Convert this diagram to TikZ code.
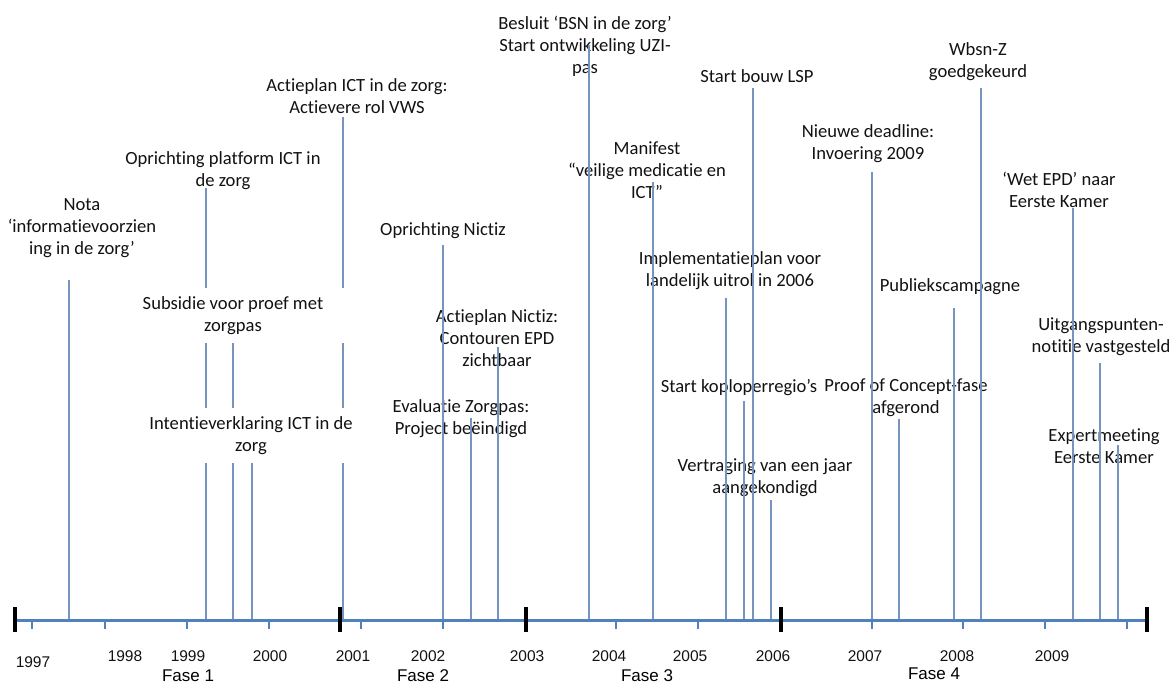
\documentclass[tikz,border=0pt]{standalone}
\usepackage{fontspec}
\setmainfont{Carlito}[Ligatures=NoCommon]
\newfontfamily\yearfont{Liberation Sans}
\usetikzlibrary{positioning}
\definecolor{axisblue}{RGB}{79,129,189}
\definecolor{lineblue}{RGB}{118,148,190}
\definecolor{textgray}{RGB}{18,18,18}

\begin{document}
\begin{tikzpicture}[x=1pt,y=-1pt,
    evtext/.style={align=center,text=textgray,inner sep=0pt,font=\fontsize{18.6}{22}\selectfont},
    masked/.style={evtext,fill=white,inner xsep=8pt,inner ysep=8.5pt},
    event/.style={draw=lineblue,line width=1.3pt},
    timeline/.style={draw=axisblue,line width=3pt},
    minor/.style={draw=axisblue,line width=2.6pt},
    major/.style={draw=black,line width=3.6pt},
    year/.style={anchor=base,text=textgray,font=\yearfont\fontsize{15.5}{18}\selectfont},
    fase/.style={anchor=base,inner sep=0pt,text=black,font=\yearfont\fontsize{17}{20}\selectfont}]
  \clip (0,0) rectangle (1175,683);
  \coordinate (axl) at (15,620);
  \coordinate (axr) at (1147,620);
  % labels (lines run over these)
  \node[evtext] (e_1) at (82,228) {Nota\\‘informatievoorzien\\ing in de zorg’};
  \node[evtext] (e_2) at (223,171) {Oprichting platform ICT in\\de zorg};
  \node[evtext] (e_5) at (357,96) {Actieplan ICT in de zorg:\\Actievere rol VWS};
  \node[evtext] (e_6) at (443,231) {Oprichting Nictiz};
  \node[evtext] (e_7) at (461,419) {Evaluatie Zorgpas:\\Project beëindigd};
  \node[evtext] (e_8) at (497,338) {Actieplan Nictiz:\\Contouren EPD\\zichtbaar};
  \node[evtext] (e_9) at (585,46) {Besluit ‘BSN in de zorg’\\Start ontwikkeling UZI-\\pas};
  \node[evtext] (e_10) at (647,170) {Manifest\\“veilige medicatie en\\ICT”};
  \node[evtext] (e_11) at (730,271) {Implementatieplan voor\\landelijk uitrol in 2006};
  \node[evtext] (e_12) at (739,388) {Start koploperregio’s};
  \node[evtext] (e_13) at (757,76) {Start bouw LSP};
  \node[evtext] (e_14) at (765,478) {Vertraging van een jaar\\aangekondigd};
  \node[evtext] (e_15) at (868,144) {Nieuwe deadline:\\Invoering 2009};
  \node[evtext] (e_16) at (906,398) {Proof of Concept-fase\\afgerond};
  \node[evtext] (e_17) at (950,287) {Publiekscampagne};
  \node[evtext] (e_18) at (978,62) {Wbsn-Z\\goedgekeurd};
  \node[evtext] (e_19) at (1059,190) {‘Wet EPD’ naar\\Eerste Kamer};
  \node[evtext] (e_20) at (1101,337) {Uitgangspunten-\\notitie vastgesteld};
  \node[evtext] (e_21) at (1104,446) {Expertmeeting\\Eerste Kamer};
  % tops of the event lines
  \coordinate (t_1) at (69,280);
  \coordinate (t_2) at (206,188);
  \coordinate (t_3) at (233,343);
  \coordinate (t_4) at (252,463);
  \coordinate (t_5) at (343,117);
  \coordinate (t_6) at (443,245);
  \coordinate (t_7) at (471,418);
  \coordinate (t_8) at (498,347);
  \coordinate (t_9) at (589,45);
  \coordinate (t_10) at (653,182);
  \coordinate (t_11) at (726,298);
  \coordinate (t_12) at (744,401);
  \coordinate (t_13) at (753,88);
  \coordinate (t_14) at (771,500);
  \coordinate (t_15) at (872,172);
  \coordinate (t_16) at (899,419);
  \coordinate (t_17) at (954,308);
  \coordinate (t_18) at (981,88);
  \coordinate (t_19) at (1073,208);
  \coordinate (t_20) at (1100,363);
  \coordinate (t_21) at (1118,445);
  \path[event]
    (t_1) edge (t_1 |- axl)
    (t_2) edge (t_2 |- axl)
    (t_3) edge (t_3 |- axl)
    (t_4) edge (t_4 |- axl)
    (t_5) edge (t_5 |- axl)
    (t_6) edge (t_6 |- axl)
    (t_7) edge (t_7 |- axl)
    (t_8) edge (t_8 |- axl)
    (t_9) edge (t_9 |- axl)
    (t_10) edge (t_10 |- axl)
    (t_11) edge (t_11 |- axl)
    (t_12) edge (t_12 |- axl)
    (t_13) edge (t_13 |- axl)
    (t_14) edge (t_14 |- axl)
    (t_15) edge (t_15 |- axl)
    (t_16) edge (t_16 |- axl)
    (t_17) edge (t_17 |- axl)
    (t_18) edge (t_18 |- axl)
    (t_19) edge (t_19 |- axl)
    (t_20) edge (t_20 |- axl)
    (t_21) edge (t_21 |- axl);
  % these two cover the lines behind them
  \node[masked,inner xsep=22pt] (e_3) at (233,315.5) {Subsidie voor proef met\\zorgpas};
  \node[masked] (e_4) at (251,435.5) {Intentieverklaring ICT in de\\zorg};
  % time axis
  \path[timeline] (axl) edge (axr);
  \draw[minor] (32,620) -- ++(0,9) (105,620) -- ++(0,9) (187,620) -- ++(0,9)
    (269,620) -- ++(0,9) (361,620) -- ++(0,9) (443,620) -- ++(0,9)
    (616,620) -- ++(0,9) (698,620) -- ++(0,9) (872,620) -- ++(0,9)
    (963,620) -- ++(0,9) (1045,620) -- ++(0,9) (1127,620) -- ++(0,9);
  \draw[major] (15,607) -- (15,632) (340,607) -- (340,632) (526,607) -- (526,632)
    (781,607) -- (781,632) (1147,607) -- (1147,632);
  \node[year] (y_1997) at (33,667) {1997};
  \node[year] (y_1998) at (125,661) {1998};
  \node[year] (y_1999) at (188,661) {1999};
  \node[year] (y_2000) at (270,661) {2000};
  \node[year] (y_2001) at (353,661) {2001};
  \node[year] (y_2002) at (428,661) {2002};
  \node[year] (y_2003) at (527,661) {2003};
  \node[year] (y_2004) at (609,661) {2004};
  \node[year] (y_2005) at (690,661) {2005};
  \node[year] (y_2006) at (773,661) {2006};
  \node[year] (y_2007) at (865,661) {2007};
  \node[year] (y_2008) at (957,661) {2008};
  \node[year] (y_2009) at (1052,661) {2009};
  \node[fase] (f_1) at (188,681) {Fase 1};
  \node[fase] (f_2) at (423,681) {Fase 2};
  \node[fase] (f_3) at (647,681) {Fase 3};
  \node[fase] (f_4) at (934,679) {Fase 4};
\end{tikzpicture}
\end{document}
